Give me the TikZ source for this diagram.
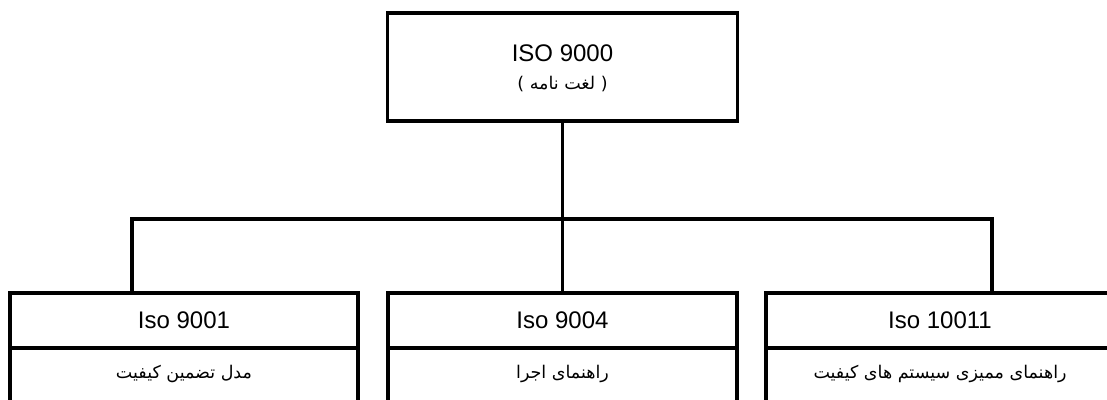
\documentclass[tikz,border=0pt]{standalone}
\usepackage{fontspec}
\setmainfont{Liberation Sans}
\newfontfamily\arabicfont[Script=Arabic]{DejaVu Sans}
\TeXXeTstate=1
\begin{document}
\begin{tikzpicture}[x=1pt,y=-1pt,
  line width=3.2pt, line join=miter,
  box/.style={draw, rectangle, inner sep=0pt, line width=3.2pt},
  latin/.style={font=\fontsize{24}{28}\selectfont},
  farsi/.style={font=\arabicfont\fontsize{17.5}{21}\selectfont}]
  \useasboundingbox (0,0) rectangle (1107,399);
  \clip (0,0) rectangle (1107,399);

  % top box
  \node[box, minimum width=350pt, minimum height=108pt] (top) at (562.5,67) {};
  \node[latin] (toptitle) at (562.5,53) {ISO 9000};
  \node[farsi] (topsub) at (562.5,84) {\beginR( لغت نامه )\endR};

  % lower boxes: header row and description row
  \node[box, minimum width=348pt, minimum height=55pt] (h1) at (184,320.5) {};
  \node[box, minimum width=348pt, minimum height=80pt] (b1) at (184,388) {};
  \node[box, minimum width=349pt, minimum height=55pt] (h2) at (562.5,320.5) {};
  \node[box, minimum width=349pt, minimum height=80pt] (b2) at (562.5,388) {};
  \node[box, minimum width=348pt, minimum height=55pt] (h3) at (940,320.5) {};
  \node[box, minimum width=348pt, minimum height=80pt] (b3) at (940,388) {};

  \node[latin] (t1) at (h1) {Iso 9001};
  \node[latin] (t2) at (h2) {Iso 9004};
  \node[latin] (t3) at (h3) {Iso 10011};
  \node[farsi] (d1) at (184,374) {\beginR مدل تضمین کیفیت\endR};
  \node[farsi] (d2) at (562.5,374) {\beginR راهنمای اجرا\endR};
  \node[farsi] (d3) at (940,374) {\beginR راهنمای ممیزی سیستم های کیفیت\endR};

  % connectors
  \coordinate (jl) at (132,219);
  \coordinate (jr) at (992,219);
  \draw (top.south) -- (h2.north);
  \draw (jl |- h1.north) -- (jl) -- (jr) -- (jr |- h3.north);
\end{tikzpicture}
\end{document}
